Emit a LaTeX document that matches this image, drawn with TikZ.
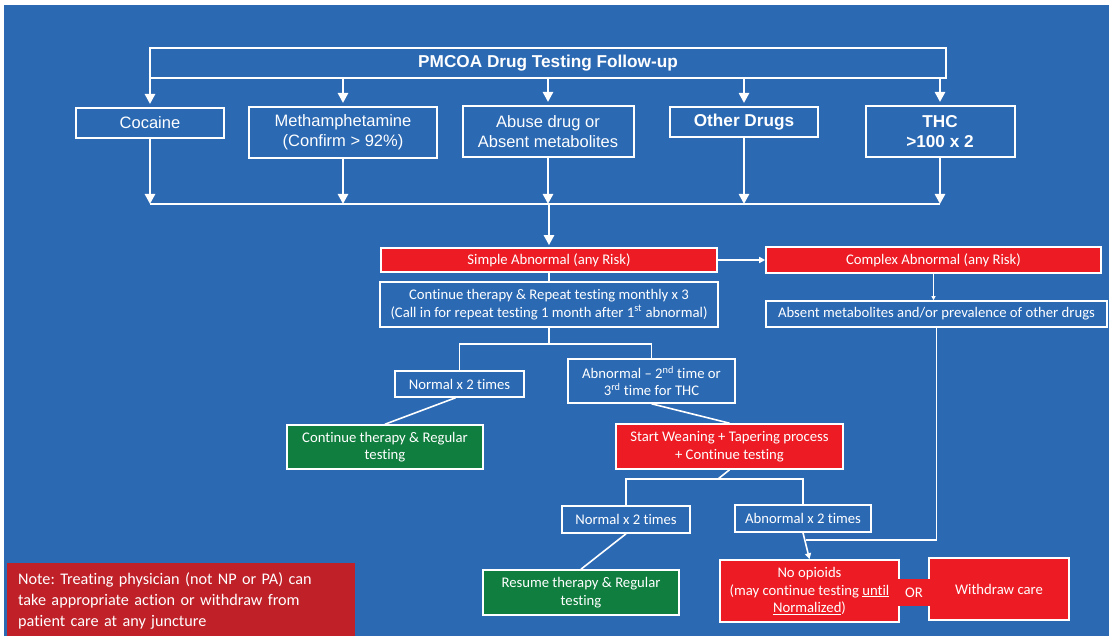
\documentclass[tikz,border=0pt]{standalone}
\usepackage{fontspec}
\setmainfont{Liberation Sans}
\newfontfamily\calfont[Ligatures=NoCommon]{Carlito}
\usetikzlibrary{arrows.meta}
\definecolor{bgblue}{RGB}{43,105,179}
\definecolor{boxred}{RGB}{237,28,36}
\definecolor{boxgreen}{RGB}{16,126,62}
\definecolor{notered}{RGB}{192,32,40}
\frenchspacing
\begin{document}
\begin{tikzpicture}[x=1pt,y=-1pt,
  topbox/.style={draw=white, line width=2pt, text=white, font=\fontsize{16.5}{20}\selectfont, align=center, inner sep=0pt},
  topbold/.style={font=\bfseries\fontsize{17.2}{20}\selectfont},
  lowbox/.style={draw=white, line width=1.6pt, text=white, font=\calfont\fontsize{14.7}{17.5}\selectfont, align=center, inner sep=0pt},
  redbox/.style={lowbox, fill=boxred},
  greenbox/.style={lowbox, fill=boxgreen},
  bigarr/.style={draw=white, line width=2.5pt, -{Triangle[width=10pt,length=10pt]}},
  bigline/.style={draw=white, line width=2.5pt},
  thin/.style={draw=white, line width=1.6pt},
  sarr/.style={draw=white, line width=1.6pt, -{Triangle[width=6pt,length=6pt]}},
  tarr/.style={draw=white, line width=1.6pt, -{Triangle[width=4pt,length=4pt]}}
]
\useasboundingbox (0,0) rectangle (1109,636);
\fill[white] (0,0) rectangle (1109,636);
\fill[bgblue] (4,5) rectangle (1109,636);

% top part
\node[topbox, topbold, minimum width=796pt, minimum height=30pt] (title) at (548,63) {PMCOA Drug Testing Follow-up};
\node[topbox, minimum width=148pt, minimum height=30pt] (coc) at (150,123) {Cocaine};
\node[topbox, minimum width=188pt, minimum height=51pt] (meth) at (343,132.5) {Methamphetamine\\(Confirm > 92\%)};
\node[topbox, minimum width=171pt, minimum height=51pt] (abuse) at (548,131.5) {Abuse drug or\\Absent metabolites};
\node[topbox, topbold, minimum width=148pt, minimum height=30pt] (other) at (744,122) {Other Drugs};
\node[topbox, topbold, minimum width=149pt, minimum height=51pt] (thc) at (940,131.5) {THC\\>100 x 2};

\foreach \n in {coc,meth,abuse,other,thc}{
  \draw[bigarr, shorten >=3pt] (title.south -| \n.north) -- (\n.north);
}
\coordinate (cl) at (150,204);
\coordinate (cr) at (940,204);
\draw[bigline] (cl) -- (cr);
\foreach \n in {coc,meth,abuse,other,thc}{
  \draw[bigarr] (\n.south) -- (\n.south |- cl);
}

% lower part
\node[redbox, minimum width=336pt, minimum height=24pt] (simple) at (549,260) {Simple Abnormal (any Risk)};
\coordinate (cm) at (549,204);
\draw[bigarr, shorten >=2pt] (cm) -- (simple.north);
\node[redbox, minimum width=335pt, minimum height=26pt] (complex) at (933.5,260) {Complex Abnormal (any Risk)};
\draw[sarr] (simple.east) -- (complex.west);
\node[lowbox, minimum width=341pt, minimum height=26pt] (absent) at (936.5,314) {Absent metabolites and/or prevalence of other drugs};
\draw[tarr] (complex.south) -- (complex.south |- absent.north);

\node[lowbox, minimum width=338pt, minimum height=45pt] (cont) at (549,304.5) {Continue therapy \& Repeat testing monthly x 3\\(Call in for repeat testing 1 month after 1\textsuperscript{st} abnormal)};
\draw[thin] (simple.south) -- (cont.north);

\node[lowbox, minimum width=129pt, minimum height=26pt] (norm1) at (459.5,384) {Normal x 2 times};
\node[lowbox, minimum width=167pt, minimum height=44pt] (abn1) at (651.5,381) {Abnormal – 2\textsuperscript{nd} time or\\3\textsuperscript{rd} time for THC};
\coordinate (s1) at (549,344);
\draw[thin] (cont.south) -- (s1);
\draw[thin] (norm1.north) -- (norm1.north |- s1) -- (abn1.north |- s1) -- (abn1.north);

\node[greenbox, minimum width=196pt, minimum height=44pt] (green1) at (385,447) {Continue therapy \& Regular\\testing};
\draw[thin] ([xshift=-4pt]norm1.south) -- (green1.north);

\node[redbox, minimum width=227pt, minimum height=45pt] (wean) at (729.5,446.5) {Start Weaning + Tapering process\\+ Continue testing};
\draw[thin] (abn1.south) -- (wean.north);

\node[lowbox, minimum width=128pt, minimum height=27pt] (norm2) at (626,519.5) {Normal x 2 times};
\node[lowbox, minimum width=136pt, minimum height=27pt] (abn2) at (803,518.5) {Abnormal x 2 times};
\coordinate (s2) at (718,479);
\draw[thin] (wean.south) -- (s2);
\draw[thin] (norm2.north) -- (norm2.north |- s2) -- (abn2.north |- s2) -- (abn2.north);

\node[greenbox, minimum width=196pt, minimum height=45pt] (resume) at (581,592.5) {Resume therapy \& Regular\\testing};
\draw[thin] (norm2.south) -- (resume.north);

\node[redbox, minimum width=179pt, minimum height=62pt] (noop) at (809.5,591) {No opioids\\(may continue testing \underline{until}\\\underline{Normalized})};
\node[redbox, minimum width=140pt, minimum height=62pt] (withdraw) at (999,589) {Withdraw care};
\node[fill=boxred, text=white, font=\calfont\fontsize{14.7}{17}\selectfont, minimum width=32pt, minimum height=27pt, inner sep=0pt] (or) at (914,592.5) {OR};

\draw[sarr] (abn2.south) -- (noop.north);
\coordinate (jn) at (806,540);
\draw[thin] (absent.south) |- (jn);

% note
\node[fill=notered, text=white, font=\calfont\fontsize{16.2}{21}\selectfont, align=left, anchor=north west, minimum width=348pt, minimum height=76pt, text width=326pt, inner xsep=11pt, inner ysep=4pt] (note) at (7,563) {Note: Treating physician (not NP or PA) can\\take appropriate action or withdraw from\\patient care at any juncture};
\end{tikzpicture}
\end{document}
